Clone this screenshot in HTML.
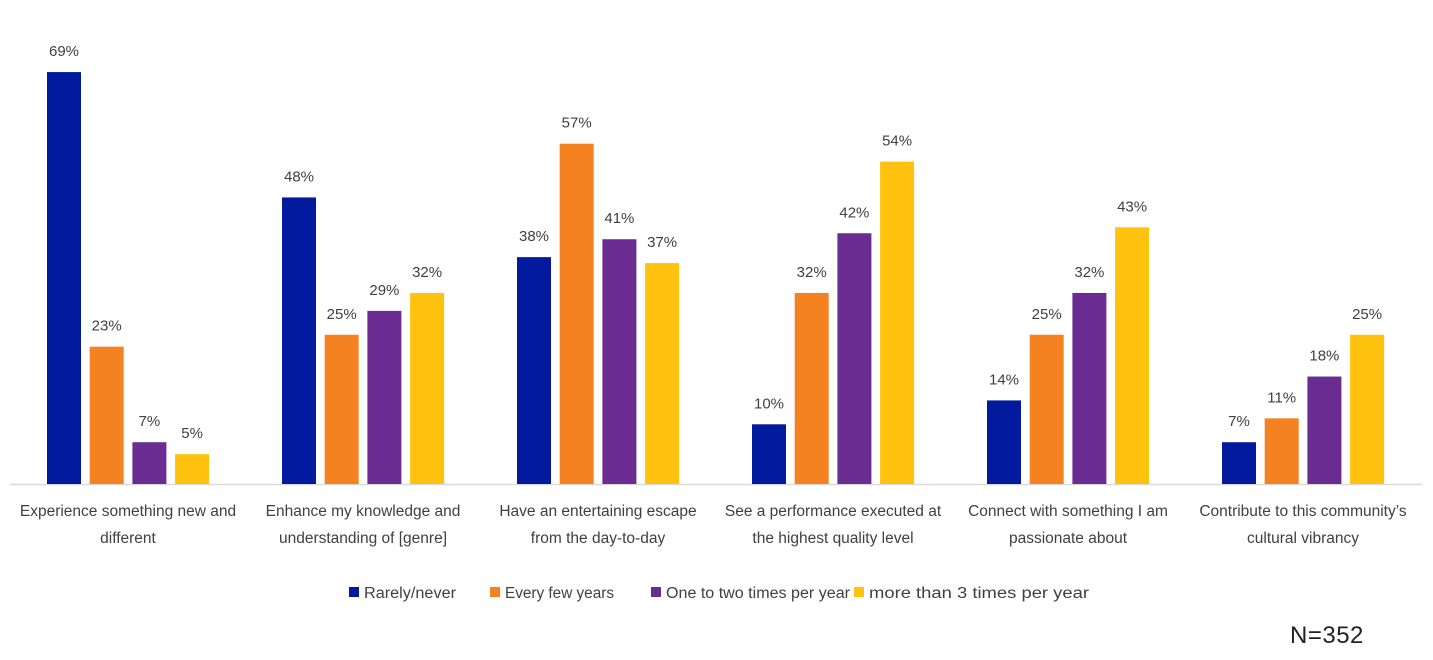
<!DOCTYPE html>
<html><head><meta charset="utf-8"><style>
body{margin:0;background:#fff;width:1433px;height:655px;overflow:hidden;font-family:"Liberation Sans",sans-serif;}
svg text{font-family:"Liberation Sans",sans-serif;}
</style></head><body>
<svg id="chart" width="1433" height="655" xmlns="http://www.w3.org/2000/svg">
<line x1="10" y1="484.5" x2="1422" y2="484.5" stroke="#d9d9d9" stroke-width="1.5"/>
<g id="bars"></g><g id="cats"></g><g id="legend"></g>
<text x="1290" y="643" font-size="24" letter-spacing="0.5" fill="#222">N=352</text>
</svg>
<script>
const categories=[["Experience something new and","different"],["Enhance my knowledge and","understanding of [genre]"],["Have an entertaining escape","from the day-to-day"],["See a performance executed at","the highest quality level"],["Connect with something I am","passionate about"],["Contribute to this community’s","cultural vibrancy"]];
const seriesNames=["Rarely/never","Every few years","One to two times per year","more than 3 times per year"];
const rarely=[69,48,38,10,14,7];
const fewYears=[23,25,57,32,25,11];
const oneTwo=[7,29,41,42,32,18];
const threePlus=[5,32,37,54,43,25];
const series=[rarely,fewYears,oneTwo,threePlus];
const colors=["#021a9e","#f58220","#6b2c91","#ffc20e"];
const NS="http://www.w3.org/2000/svg";
const base=484, pxPer=5.97;
const y=v=>base-v*pxPer;
const gx=i=>47+i*235;
function mk(tag,attrs,parent){const e=document.createElementNS(NS,tag);for(const k in attrs)e.setAttribute(k,attrs[k]);parent.appendChild(e);return e;}
const bars=document.getElementById('bars'),cats=document.getElementById('cats'),leg=document.getElementById('legend');
categories.forEach((c,i)=>{
 series.forEach((s,j)=>{
  const x=gx(i)+j*42.7;
  const r=mk('rect',{x:x,y:y(s[i]),width:34,height:s[i]*pxPer,fill:colors[j]},bars);
  
  
  const t=mk('text',{x:x+17,y:y(s[i])-16,'text-anchor':'middle','font-size':15,fill:'#404040'},bars);
  t.textContent=s[i]+'%';
  
  
 });
 c.forEach((line,k)=>{
  const t=mk('text',{x:gx(i)+81,y:516+k*27,'text-anchor':'middle','font-size':15.5,fill:'#404040'},cats);
  t.textContent=line;
  
  
 });
});
const legX=[349,490,651,854];
const legW=[92,109,184,220];
seriesNames.forEach((n,j)=>{
 const g=mk('g',{},leg);
 
 
 mk('rect',{x:legX[j],y:587,width:10,height:10,fill:colors[j]},g);
 const t=mk('text',{x:legX[j]+15,y:598,'font-size':15.5,textLength:legW[j],lengthAdjust:'spacingAndGlyphs',fill:'#404040'},g);
 t.textContent=n;
});
</script>
</body></html>
